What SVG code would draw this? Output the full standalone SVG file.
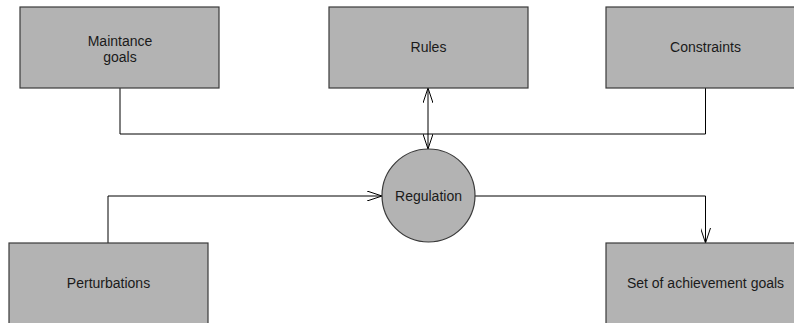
<svg xmlns="http://www.w3.org/2000/svg" width="794" height="323" viewBox="0 0 794 323">
<defs>
<style>
.box{fill:#b3b3b3;stroke:#3a3a3a;stroke-width:1.2}
.lbl{font-family:"Liberation Sans",Arial,sans-serif;font-size:14px;fill:#1a1a1a;text-anchor:middle}
.ln{fill:none;stroke:#000;stroke-width:1}
</style>
<marker id="arr" viewBox="0 0 16 10" refX="15" refY="5" markerWidth="16" markerHeight="10" markerUnits="userSpaceOnUse" orient="auto-start-reverse">
<path d="M0,0 L15,5 L0,10" fill="none" stroke="#000" stroke-width="1"/>
</marker>
</defs>
<rect width="794" height="323" fill="#fff"/>
<g id="connectors">
<path class="ln" d="M120,88 V134 H705.5 V88"/>
<path class="ln" d="M428,88 V149" marker-start="url(#arr)" marker-end="url(#arr)"/>
<path class="ln" d="M108,243 V196 H382" marker-end="url(#arr)"/>
<path class="ln" d="M475,196 H705.5 V243" marker-end="url(#arr)"/>
</g>
<g id="maintance">
<rect class="box" x="20" y="7" width="199" height="81"/>
<text class="lbl" x="120" y="46">Maintance</text>
<text class="lbl" x="120" y="62">goals</text>
</g>
<g id="rules">
<rect class="box" x="329" y="7" width="199" height="81"/>
<text class="lbl" x="428.5" y="52">Rules</text>
</g>
<g id="constraints">
<rect class="box" x="606" y="7" width="199" height="81"/>
<text class="lbl" x="705.5" y="52">Constraints</text>
</g>
<g id="regulation">
<circle class="box" cx="428.5" cy="195.5" r="46.5"/>
<text class="lbl" x="428.5" y="201">Regulation</text>
</g>
<g id="perturbations">
<rect class="box" x="9" y="243" width="199" height="90"/>
<text class="lbl" x="108.5" y="288">Perturbations</text>
</g>
<g id="achievement">
<rect class="box" x="606" y="243" width="199" height="90"/>
<text class="lbl" x="705.5" y="288">Set of achievement goals</text>
</g>
</svg>
